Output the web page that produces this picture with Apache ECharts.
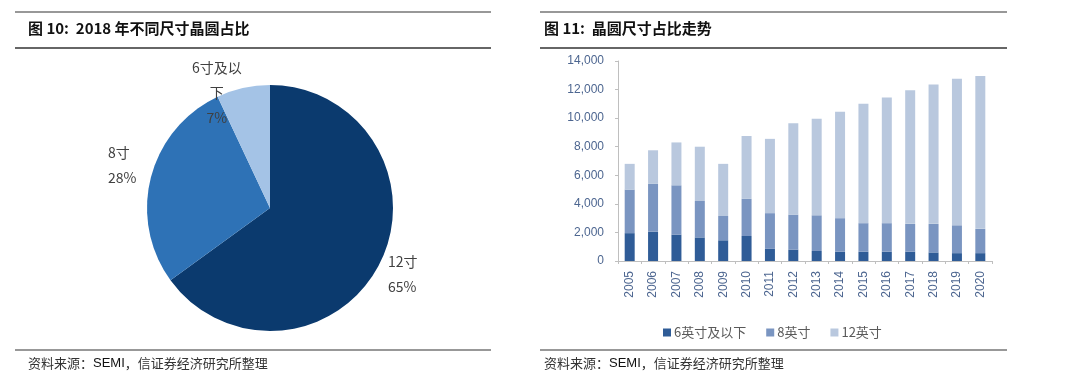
<!DOCTYPE html>
<html>
<head>
<meta charset="utf-8">
<script src="https://cdn.jsdelivr.net/npm/echarts@6/dist/echarts.min.js"></script>
<style>
html,body{margin:0;padding:0;background:#fff;}
#c{width:1080px;height:388px;}
</style>
</head>
<body>
<div id="c"></div>
<script>
// Pie data (2018)
const pieNames = ['12寸', '8寸', '6寸及以下'];
const pieLabelNames = ['12寸', '8寸', '6寸及以\n下'];
const pieValues = [65, 28, 7];

// Bar data
const years = ['2005','2006','2007','2008','2009','2010','2011','2012','2013','2014','2015','2016','2017','2018','2019','2020'];
const s6 = [1950, 2050, 1850, 1650, 1450, 1750, 850, 800, 700, 650, 650, 650, 650, 600, 550, 550];
const s8 = [3050, 3350, 3450, 2550, 1700, 2600, 2500, 2450, 2500, 2350, 2000, 2000, 1950, 2000, 1950, 1700];
const s12 = [1800, 2350, 3000, 3800, 3650, 4400, 5200, 6400, 6750, 7450, 8350, 8800, 9350, 9750, 10250, 10700];
const seriesNames = ['6英寸及以下', '8英寸', '12英寸'];
const yTicks = { min: 0, max: 14000, interval: 2000 };

// label placement tweaks for the pie labels (style only)
const pieLabelTweak = [
  { dx: -6, dy: 8, align: 'left' },
  { dx: -28, dy: -11, align: 'left' },
  { dx: -16, dy: 11, align: 'center' }
];

const chart = echarts.init(document.getElementById('c'));
const cjk = '"Noto Sans CJK SC", "Liberation Sans", sans-serif';

function hline(x1, x2, y, w) {
  return { type: 'line', shape: { x1: x1, y1: y, x2: x2, y2: y }, style: { stroke: '#333', lineWidth: w }, silent: true };
}
function source(left) {
  return { type: 'text', left: left, top: 357, style: {
    text: '{a|资料来源：}{b|SEMI}{a|，信证券经济研究所整理}',
    rich: { a: { font: '13px ' + cjk, fill: '#333' }, b: { font: '13px "Liberation Sans", sans-serif', fill: '#111' } } } };
}

chart.setOption({
  animation: false,
  textStyle: { fontFamily: cjk },
  graphic: [
    hline(15, 491, 12, 1.2), hline(15, 491, 48, 1.5), hline(15, 491, 350, 1.2),
    hline(540, 1007, 12, 1.2), hline(540, 1007, 48, 1.5), hline(540, 1007, 350, 1.2),
    { type: 'text', left: 28, top: 21, style: { text: '图 10:  2018 年不同尺寸晶圆占比', font: 'bold 15px ' + cjk, fill: '#111' } },
    { type: 'text', left: 544, top: 21, style: { text: '图 11:  晶圆尺寸占比走势', font: 'bold 15px ' + cjk, fill: '#111' } },
    source(28), source(544)
  ],
  color: ['#2f5c97', '#7a95c1', '#b9c8de'],
  legend: {
    left: 658, top: 321,
    itemWidth: 8, itemHeight: 8, itemGap: 20,
    icon: 'rect',
    textStyle: { fontSize: 13, color: '#595959', fontFamily: cjk, padding: [0, 0, 0, -2] },
    data: seriesNames
  },
  grid: { left: 618, right: 88, top: 61, bottom: 127, containLabel: false },
  xAxis: {
    type: 'category', data: years,
    axisLine: { lineStyle: { color: '#bfbfbf' } },
    axisTick: { show: true, alignWithLabel: false, length: 3, lineStyle: { color: '#bfbfbf' } },
    axisLabel: { rotate: 90, color: '#4d6690', fontSize: 12, margin: 10, fontFamily: '"Liberation Sans", sans-serif' }
  },
  yAxis: {
    type: 'value', min: yTicks.min, max: yTicks.max, interval: yTicks.interval,
    axisLine: { show: true, lineStyle: { color: '#bfbfbf' } },
    axisTick: { show: true, length: 3, lineStyle: { color: '#bfbfbf' } },
    splitLine: { show: false },
    axisLabel: { color: '#4d6690', fontSize: 12, margin: 14, fontFamily: '"Liberation Sans", sans-serif',
      formatter: v => v.toLocaleString('en-US') }
  },
  series: [
    { type: 'bar', name: seriesNames[0], stack: 'a', data: s6, barWidth: 10 },
    { type: 'bar', name: seriesNames[1], stack: 'a', data: s8, barWidth: 10 },
    { type: 'bar', name: seriesNames[2], stack: 'a', data: s12, barWidth: 10 },
    {
      type: 'pie', center: [270, 208], radius: 123, startAngle: 90, clockwise: true,
      label: {
        show: true, position: 'outside', color: '#404040', fontSize: 14, lineHeight: 25,
        fontFamily: cjk,
        formatter: p => pieLabelNames[p.dataIndex] + '\n' + p.value + '%'
      },
      labelLine: { show: false, length: 6, length2: 4 },
      labelLayout: p => pieLabelTweak[p.dataIndex],
      data: pieNames.map((n, i) => ({ name: n, value: pieValues[i],
        itemStyle: { color: ['#0b3a6e', '#2e72b6', '#a4c3e6'][i] } })),
      silent: true
    }
  ]
});
</script>
</body>
</html>
